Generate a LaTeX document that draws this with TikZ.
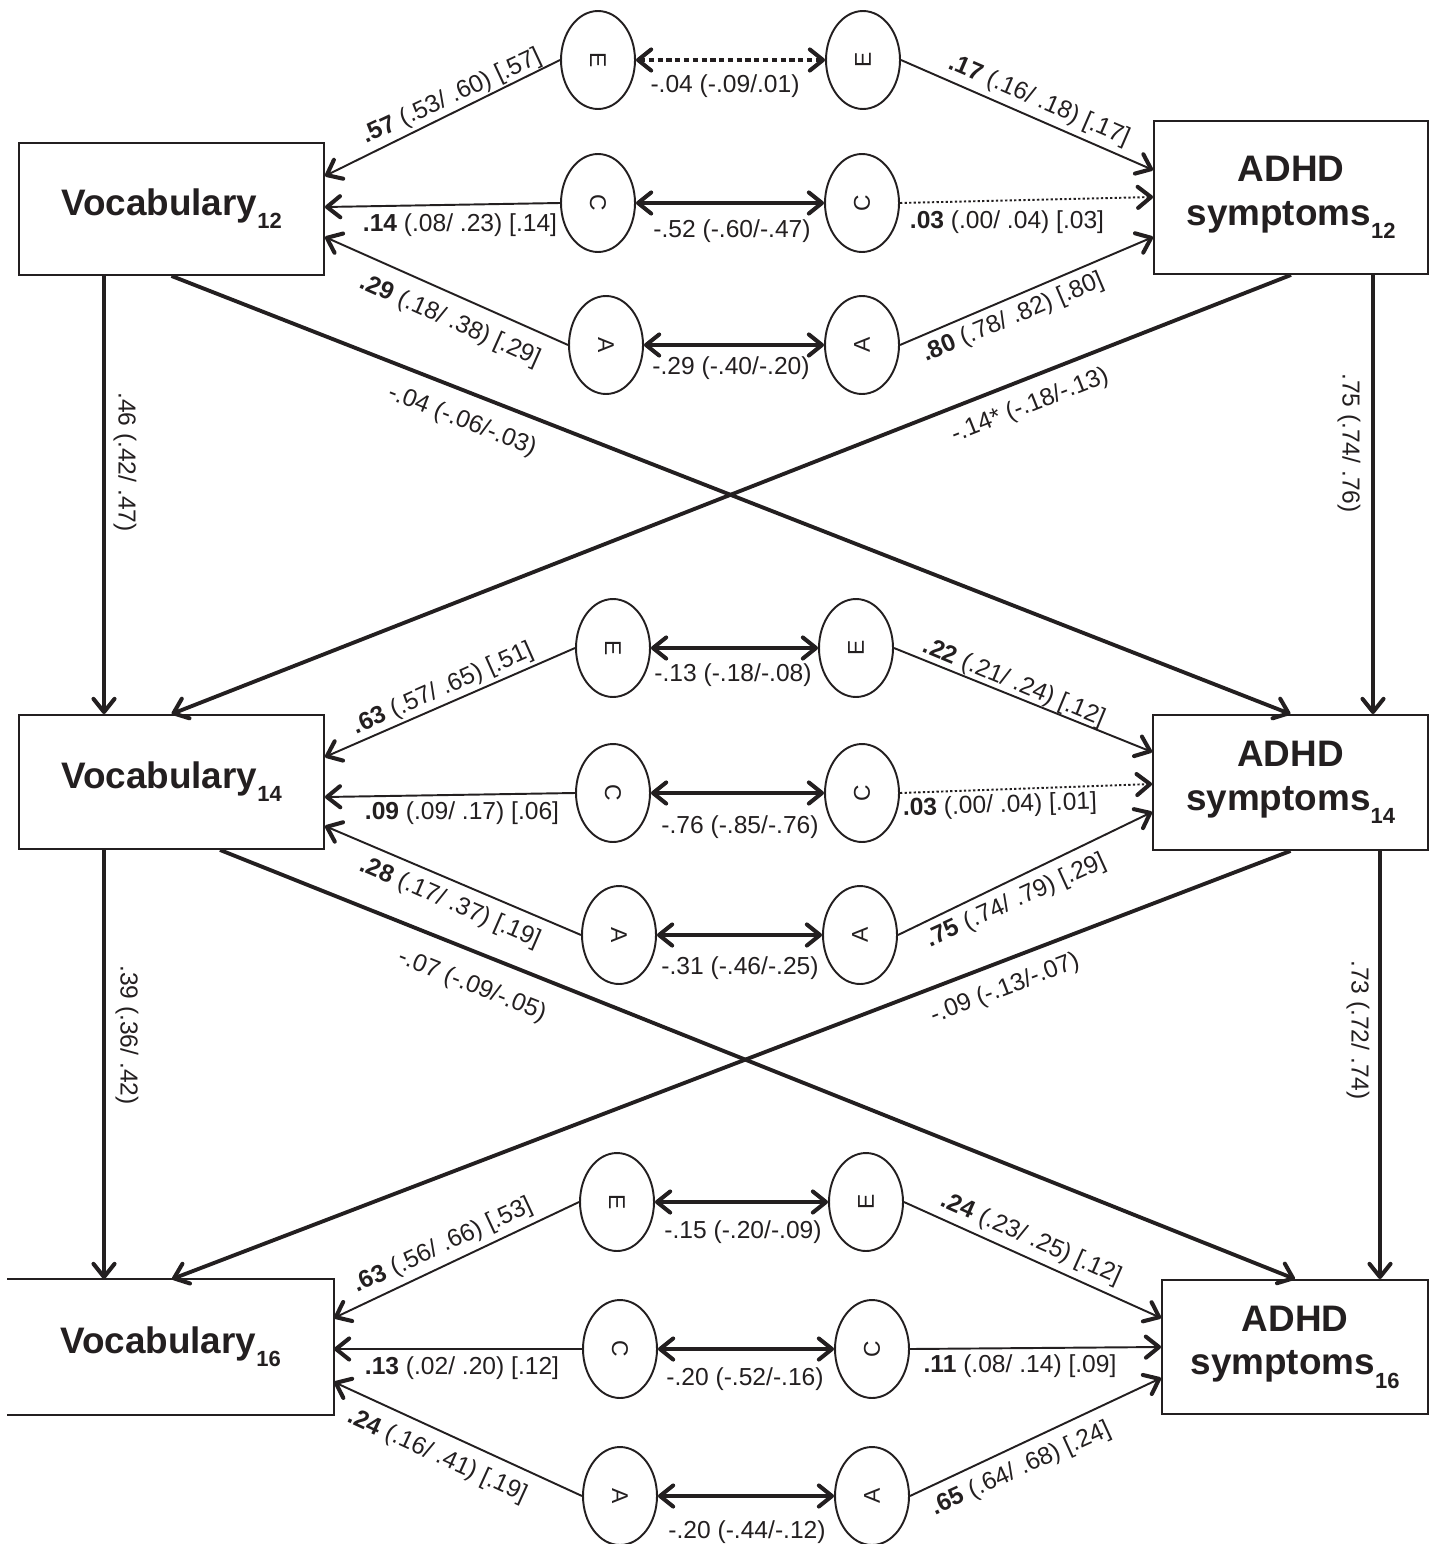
\documentclass[tikz,border=0pt]{standalone}
\usepackage{fontspec}
\setmainfont{Liberation Sans}
\usetikzlibrary{arrows.meta,shapes.geometric,calc}
\definecolor{ink}{RGB}{35,31,32}
\newcommand\sbx[1]{\raisebox{-7.5pt}{\fontsize{12.5}{12.5}\selectfont\bfseries #1}}
\newcommand\lL[1]{\rotatebox{-90}{#1}}
\newcommand\lR[1]{\rotatebox{90}{#1}}
\begin{document}
\begin{tikzpicture}[x=0.02cm,y=-0.02cm,color=ink,
  >={Straight Barb[length=7.5pt,width=12pt,line width=2.3pt,round]},
  box/.style={rectangle,draw,line width=1.1pt,align=center,inner sep=0pt,
    font=\fontsize{21}{25}\selectfont\bfseries},
  lat/.style={ellipse,draw,line width=1.1pt,minimum width=1.48cm,minimum height=1.96cm,
    inner sep=0pt,font=\fontsize{13}{13}\selectfont},
  lab/.style={inner sep=0pt,font=\fontsize{14}{16}\selectfont},
  pth/.style={line width=1.1pt,->},
  pthdot/.style={line width=1.1pt,->,dash pattern=on 1.3pt off 1.3pt},
  bid/.style={line width=2.6pt,<->},
  biddot/.style={line width=2.6pt,<->,dash pattern=on 3pt off 2pt},
  xl/.style={line width=2.2pt,->}]
\useasboundingbox (0,0) rectangle (1434,1544);
\clip (0,0) rectangle (1434,1544);

% boxes
\node[box,minimum width=6.1cm,minimum height=2.64cm] (V12) at (171.5,209) {Vocabulary\sbx{12}};
\node[box,minimum width=5.48cm,minimum height=3.06cm] (A12) at (1291,197.5) {ADHD\\symptoms\sbx{12}};
\node[box,minimum width=6.1cm,minimum height=2.68cm] (V14) at (171.5,782) {Vocabulary\sbx{14}};
\node[box,minimum width=5.5cm,minimum height=2.7cm] (A14) at (1290.5,782.5) {ADHD\\symptoms\sbx{14}};
\node[box,draw=none,minimum width=6.5cm,minimum height=2.68cm] (V16) at (170.5,1347) {Vocabulary\sbx{16}};
\draw[line width=1.1pt] (V16.north west) -- (V16.north east) -- (V16.south east) -- (V16.south west);
\node[box,minimum width=5.32cm,minimum height=2.68cm] (A16) at (1295,1347) {ADHD\\symptoms\sbx{16}};

% latent factors
\node[lat] (E1L) at (598,60) {\lL{E}};
\node[lat] (E1R) at (863,60) {\lR{E}};
\node[lat] (C1L) at (598,203) {\lL{C}};
\node[lat] (C1R) at (862,203) {\lR{C}};
\node[lat] (A1L) at (606,345) {\lL{A}};
\node[lat] (A1R) at (862,345) {\lR{A}};
\node[lat] (E2L) at (613,648) {\lL{E}};
\node[lat] (E2R) at (856,648) {\lR{E}};
\node[lat] (C2L) at (613,793) {\lL{C}};
\node[lat] (C2R) at (862,793) {\lR{C}};
\node[lat] (A2L) at (619,935) {\lL{A}};
\node[lat] (A2R) at (860,935) {\lR{A}};
\node[lat] (E3L) at (617,1202) {\lL{E}};
\node[lat] (E3R) at (866,1202) {\lR{E}};
\node[lat] (C3L) at (620,1349) {\lL{C}};
\node[lat] (C3R) at (872,1349) {\lR{C}};
\node[lat] (A3L) at (620,1496) {\lL{A}};
\node[lat] (A3R) at (872,1496) {\lR{A}};

% row 1 paths
\draw[pth] (E1L.west) -- ($(V12.east)+(0,-33)$);
\draw[pth] (C1L.west) -- ($(V12.east)+(0,-2)$);
\draw[pth] (A1L.west) -- ($(V12.east)+(0,28)$);
\draw[biddot] (E1L) -- (E1R);
\draw[bid] (C1L) -- (C1R);
\draw[bid] (A1L) -- (A1R);
\draw[pth] (E1R.east) -- ($(A12.west)+(0,-27.5)$);
\draw[pthdot] (C1R.east) -- ($(A12.west)+(0,-0.5)$);
\draw[pth] (A1R.east) -- ($(A12.west)+(0,39.5)$);

% row 2 paths
\draw[pth] (E2L.west) -- ($(V14.east)+(0,-25)$);
\draw[pth] (C2L.west) -- ($(V14.east)+(0,15)$);
\draw[pth] (A2L.west) -- ($(V14.east)+(0,44)$);
\draw[bid] (E2L) -- (E2R);
\draw[bid] (C2L) -- (C2R);
\draw[bid] (A2L) -- (A2R);
\draw[pth] (E2R.east) -- ($(A14.west)+(0,-30.5)$);
\draw[pthdot] (C2R.east) -- ($(A14.west)+(0,1.5)$);
\draw[pth] (A2R.east) -- ($(A14.west)+(0,29.5)$);

% row 3 paths
\draw[pth] (E3L.west) -- ($(V16.east)+(0,-29)$);
\draw[pth] (C3L.west) -- ($(V16.east)+(0,2)$);
\draw[pth] (A3L.west) -- ($(V16.east)+(0,35)$);
\draw[bid] (E3L) -- (E3R);
\draw[bid] (C3L) -- (C3R);
\draw[bid] (A3L) -- (A3R);
\draw[pth] (E3R.east) -- ($(A16.west)+(0,-29)$);
\draw[pth] (C3R.east) -- ($(A16.west)+(0,0)$);
\draw[pth] (A3R.east) -- ($(A16.west)+(0,31)$);

% cross-lagged paths
\draw[xl] ($(V12.south)+(-67.5,0)$) -- ($(V14.north)+(-67.5,0)$);
\draw[xl] ($(A12.south)+(82,0)$) -- ($(A14.north)+(82.5,0)$);
\draw[xl] (V12.south) -- (A14.north);
\draw[xl] (A12.south) -- (V14.north);
\draw[xl] ($(V14.south)+(-67.5,0)$) -- ($(V16.north)+(-66.5,0)$);
\draw[xl] ($(A14.south)+(89.5,0)$) -- ($(A16.north)+(85,0)$);
\draw[xl] ($(V14.south)+(48.5,0)$) -- (A16.north);
\draw[xl] (A14.south) -- ($(V16.north)+(1.5,0)$);

% row 1 labels
\node[lab,rotate=25] (l1) at (452,97) {\textbf{.57} (.53/ .60) [.57]};
\node[lab] (l2) at (460,225) {\textbf{.14} (.08/ .23) [.14]};
\node[lab,rotate=-24] (l3) at (450,321) {\textbf{.29} (.18/ .38) [.29]};
\node[lab] (l4) at (725,86) {-.04 (-.09/.01)};
\node[lab] (l5) at (732,231) {-.52 (-.60/-.47)};
\node[lab] (l6) at (731,368) {-.29 (-.40/-.20)};
\node[lab,rotate=-23.4] (l7) at (1039,101) {\textbf{.17} (.16/ .18) [.17]};
\node[lab] (l8) at (1007,222) {\textbf{.03} (.00/ .04) [.03]};
\node[lab,rotate=23] (l9) at (1013,318) {\textbf{.80} (.78/ .82) [.80]};

% row 2 labels
\node[lab,rotate=24] (m1) at (443,689) {\textbf{.63} (.57/ .65) [.51]};
\node[lab] (m2) at (462,813) {\textbf{.09} (.09/ .17) [.06]};
\node[lab,rotate=-23.5] (m3) at (450,903) {\textbf{.28} (.17/ .37) [.19]};
\node[lab] (m4) at (733,675) {-.13 (-.18/-.08)};
\node[lab] (m5) at (740,827) {-.76 (-.85/-.76)};
\node[lab] (m6) at (740,968) {-.31 (-.46/-.25)};
\node[lab,rotate=-22.5] (m7) at (1014,683) {\textbf{.22} (.21/ .24) [.12]};
\node[lab,rotate=2] (m8) at (1000,806) {\textbf{.03} (.00/ .04) [.01]};
\node[lab,rotate=24.5] (m9) at (1016,901) {\textbf{.75} (.74/ .79) [.29]};

% row 3 labels
\node[lab,rotate=25] (n1) at (443,1246) {\textbf{.63} (.56/ .66) [.53]};
\node[lab] (n2) at (462,1368) {\textbf{.13} (.02/ .20) [.12]};
\node[lab,rotate=-24.5] (n3) at (437,1456) {\textbf{.24} (.16/ .41) [.19]};
\node[lab] (n4) at (743,1232) {-.15 (-.20/-.09)};
\node[lab] (n5) at (745,1379) {-.20 (-.52/-.16)};
\node[lab] (n6) at (747,1532) {-.20 (-.44/-.12)};
\node[lab,rotate=-24] (n7) at (1031,1239) {\textbf{.24} (.23/ .25) [.12]};
\node[lab] (n8) at (1020,1366) {\textbf{.11} (.08/ .14) [.09]};
\node[lab,rotate=24.5] (n9) at (1021,1469) {\textbf{.65} (.64/ .68) [.24]};

% cross-lagged labels
\node[lab,rotate=-90] (x1) at (125,462) {.46 (.42/ .47)};
\node[lab,rotate=-21.5] (x2) at (462,421) {-.04 (-.06/-.03)};
\node[lab,rotate=21.5] (x3) at (1030,406) {-.14* (-.18/-.13)};
\node[lab,rotate=-90] (x4) at (1349,443) {.75 (.74/ .76)};
\node[lab,rotate=-90] (x5) at (127,1035) {.39 (.36/ .42)};
\node[lab,rotate=-21.8] (x6) at (472,986) {-.07 (-.09/-.05)};
\node[lab,rotate=21] (x7) at (1005,989) {-.09 (-.13/-.07)};
\node[lab,rotate=-90] (x8) at (1358,1030) {.73 (.72/ .74)};
\end{tikzpicture}
\end{document}
